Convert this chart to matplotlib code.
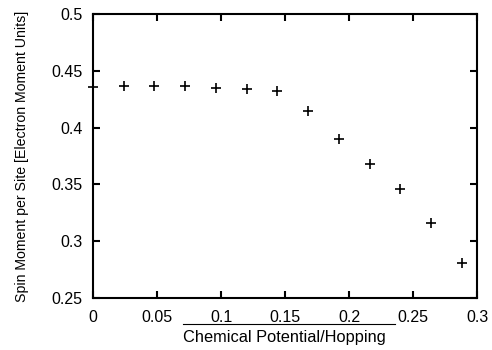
import matplotlib.pyplot as plt
from matplotlib.lines import Line2D

# chemical potential / hopping and spin moment per site
mu = [0.0, 0.024, 0.048, 0.072, 0.096, 0.120, 0.144, 0.168, 0.192, 0.216, 0.240, 0.264, 0.288]
spin = [0.436, 0.437, 0.437, 0.437, 0.435, 0.434, 0.432, 0.415, 0.390, 0.368, 0.346, 0.316, 0.281]

xticks = [0, 0.05, 0.1, 0.15, 0.2, 0.25, 0.3]
xlabels = ["0", "0.05", "0.1", "0.15", "0.2", "0.25", "0.3"]
yticks = [0.25, 0.3, 0.35, 0.4, 0.45, 0.5]
ylabels = ["0.25", "0.3", "0.35", "0.4", "0.45", "0.5"]

plt.rcParams["font.family"] = ["Liberation Sans", "DejaVu Sans"]

fig = plt.figure(figsize=(4.92, 3.5), dpi=100)
ax = fig.add_axes([0.189, 0.149, 0.781, 0.811])
ax.plot(mu, spin, "+", color="black", markersize=7, markeredgewidth=1.2, clip_on=False)

ax.set_xlim(0, 0.3)
ax.set_ylim(0.25, 0.5)
ax.set_xticks(xticks)
ax.set_xticklabels(xlabels)
ax.set_yticks(yticks)
ax.set_yticklabels(ylabels)
ax.tick_params(direction="in", top=True, right=True, length=5, width=1.5, labelsize=11.5)
ax.tick_params(axis="x", pad=9)
ax.tick_params(axis="y", pad=7.5)
for s in ax.spines.values():
    s.set_linewidth(1.5)

ax.set_ylabel("Spin Moment per Site [Electron Moment Units]", fontsize=10.2, labelpad=16)
fig.text(0.578, 0.013, "Chemical Potential/Hopping", fontsize=11.8, ha="center", va="bottom")
fig.add_artist(Line2D([183 / 492, 395 / 492], [1 - 324 / 350, 1 - 324 / 350], color="black", linewidth=0.8))

fig.savefig("out.png", dpi=100)
